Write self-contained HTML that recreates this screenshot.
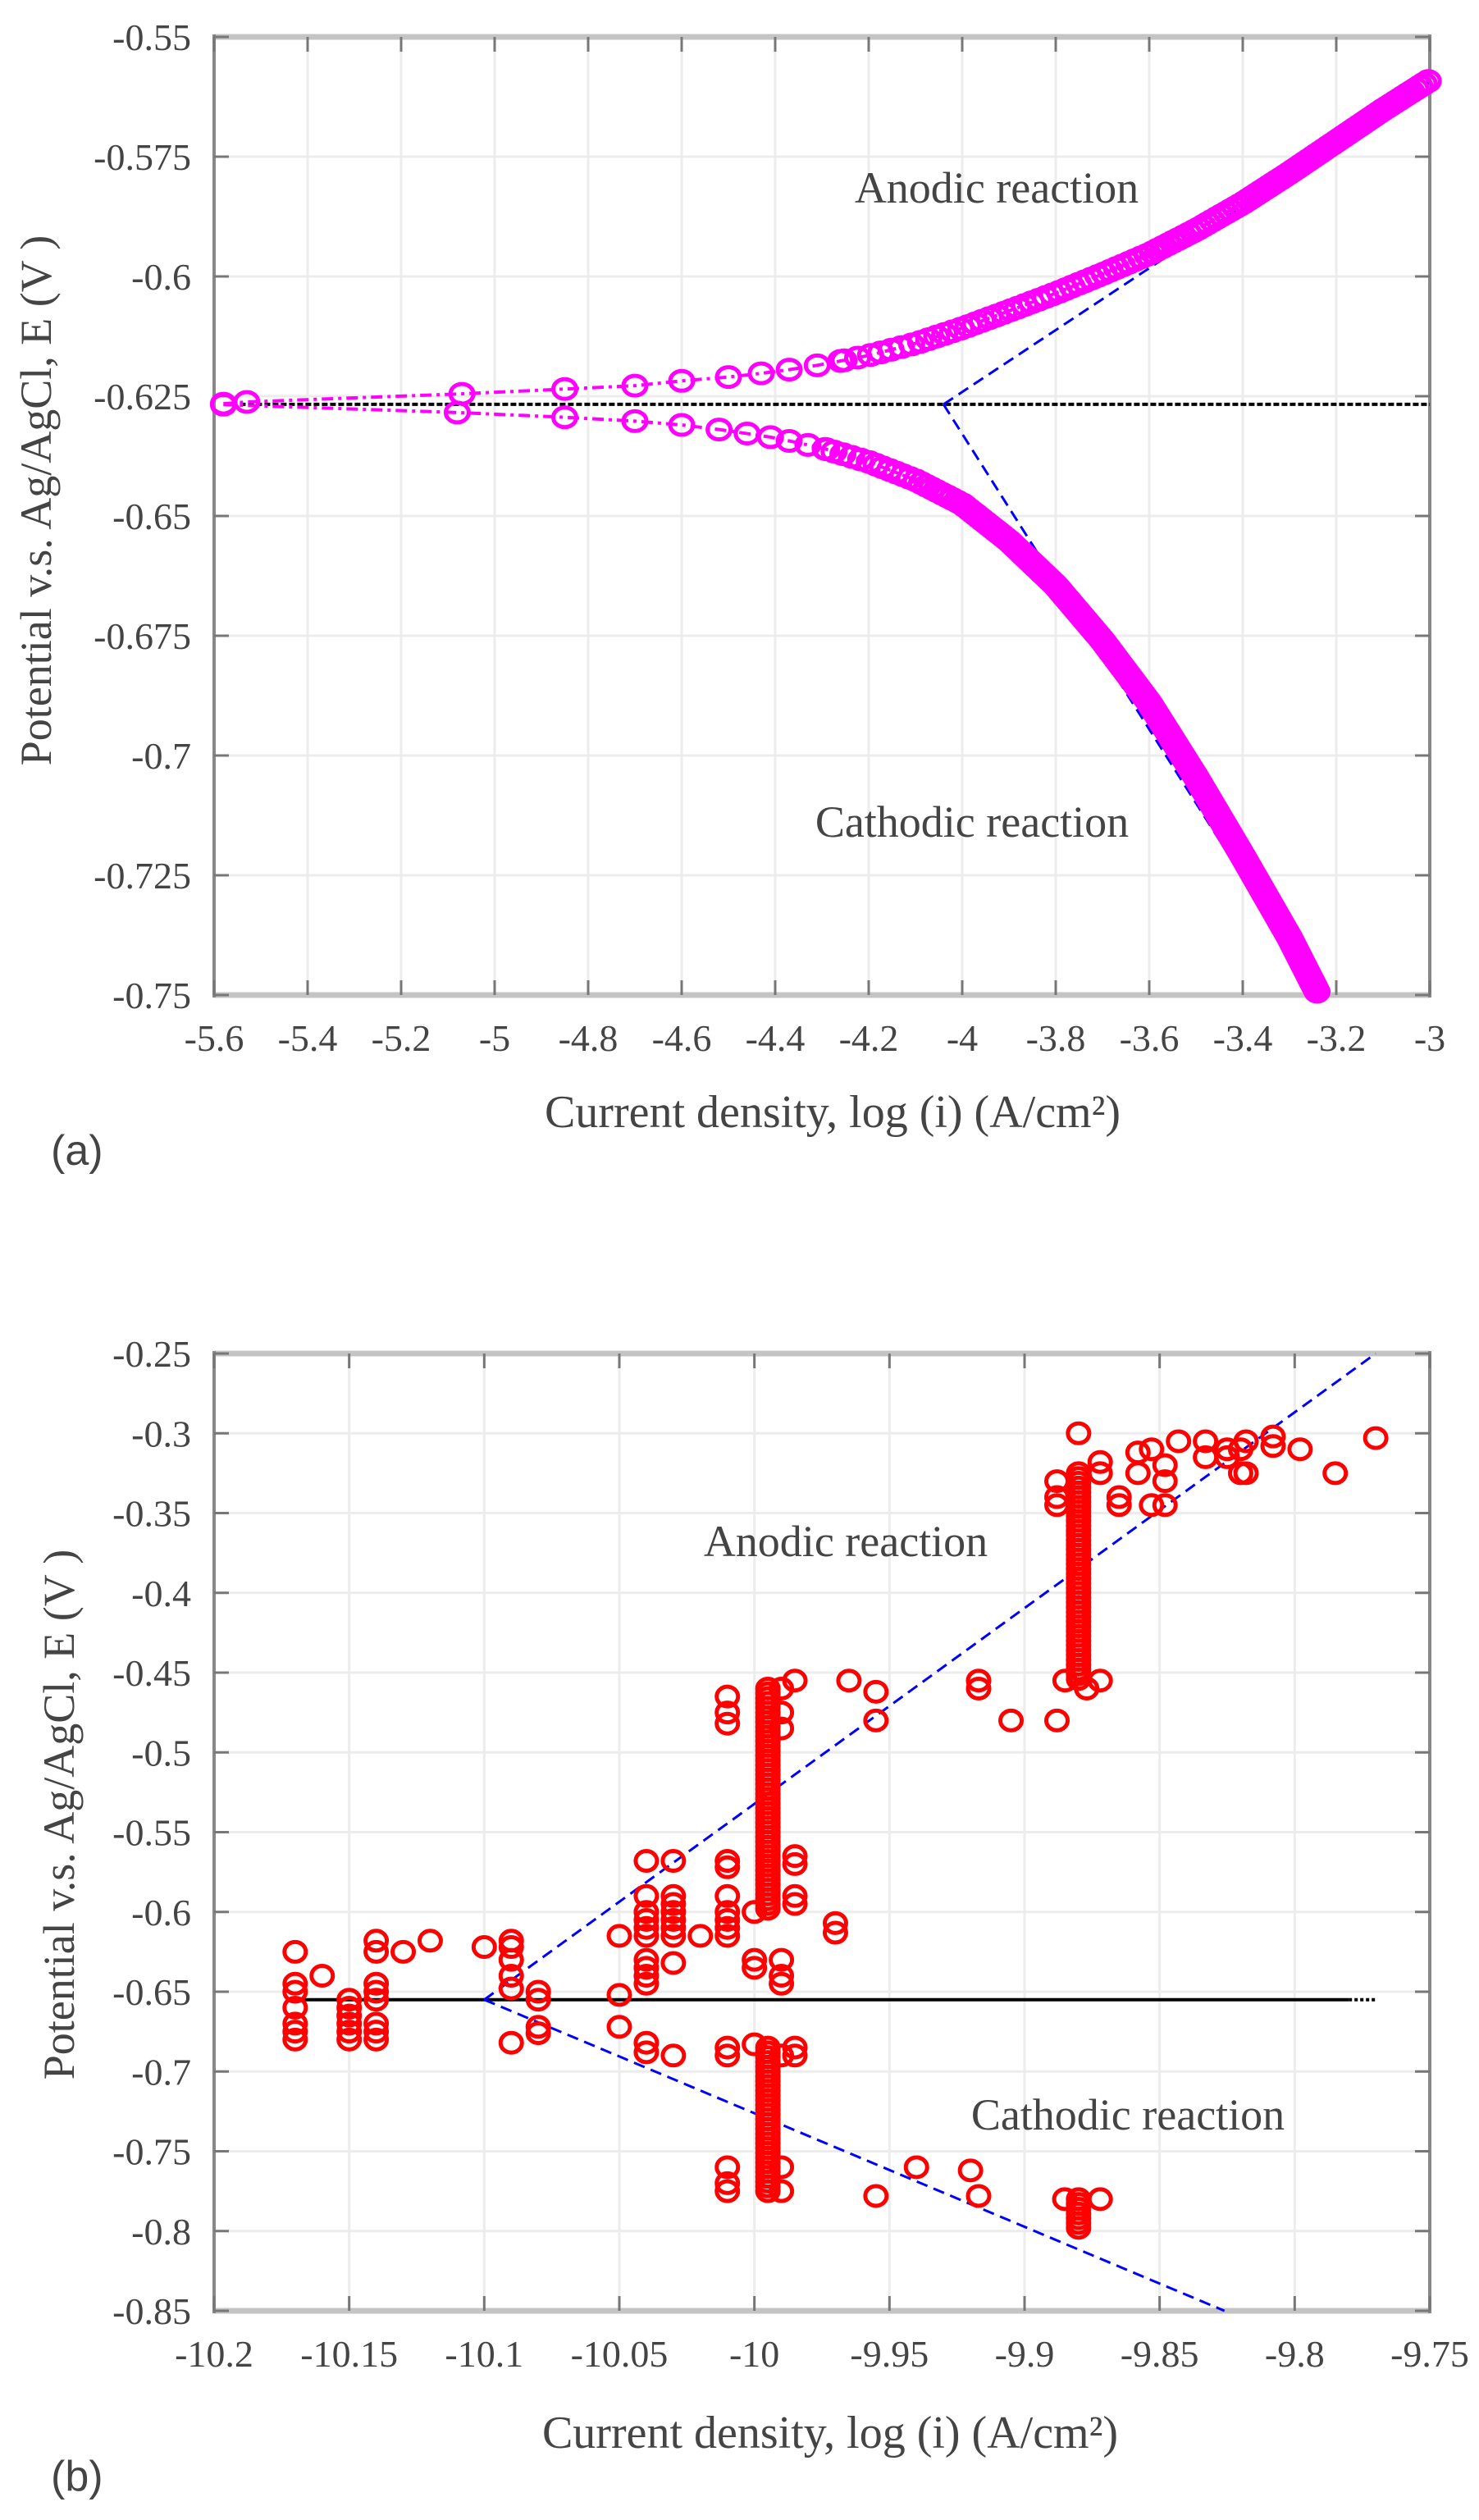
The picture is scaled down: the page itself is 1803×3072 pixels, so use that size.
<!DOCTYPE html>
<html><head><meta charset="utf-8"><style>
html,body{margin:0;padding:0;background:#fff;}
svg{display:block;}
text{font-family:"Liberation Serif",serif;fill:#444;}
</style></head><body>
<svg id="s" width="1803" height="3072" viewBox="0 0 1803 3072" xmlns="http://www.w3.org/2000/svg">
<rect width="1803" height="3072" fill="#fff"/>
<g id="ga"></g>
<g id="gb"></g>
<text x="1215" y="247" font-size="54" text-anchor="middle" fill="#333">Anodic reaction</text>
<text x="1185" y="1020" font-size="54" text-anchor="middle" fill="#333">Cathodic reaction</text>
<text x="1015" y="1374" font-size="56" text-anchor="middle">Current density, log (i) (A/cm²)</text>
<text transform="translate(62,610) rotate(-90)" font-size="54" text-anchor="middle">Potential v.s. Ag/AgCl, E (V )</text>
<text x="62" y="1420" font-size="52" style="font-family:'Liberation Sans',sans-serif">(a)</text>
<text x="1031" y="1897" font-size="54" text-anchor="middle" fill="#333">Anodic reaction</text>
<text x="1375" y="2596" font-size="54" text-anchor="middle" fill="#333">Cathodic reaction</text>
<text x="1012" y="2984" font-size="56" text-anchor="middle">Current density, log (i) (A/cm²)</text>
<text transform="translate(90,2212) rotate(-90)" font-size="54" text-anchor="middle">Potential v.s. Ag/AgCl, E (V )</text>
<text x="62" y="3036" font-size="52" style="font-family:'Liberation Sans',sans-serif">(b)</text>
</svg>
<script>
var NS="http://www.w3.org/2000/svg";
function el(g,n,a){var e=document.createElementNS(NS,n);for(var k in a)e.setAttribute(k,a[k]);g.appendChild(e);return e;}
function axes(g,L,R,T,B,xt,yt,X,Y,xl,yl){
  xt.forEach(function(v){var x=X(v);el(g,'line',{x1:x,y1:T,x2:x,y2:B,stroke:'#ececec','stroke-width':3});});
  yt.forEach(function(v){var y=Y(v);el(g,'line',{x1:L,y1:y,x2:R,y2:y,stroke:'#ececec','stroke-width':3});});
  el(g,'line',{x1:L,y1:T,x2:R,y2:T,stroke:'#c4c4c4','stroke-width':7});
  el(g,'line',{x1:L,y1:B,x2:R,y2:B,stroke:'#c4c4c4','stroke-width':7});
  el(g,'line',{x1:L,y1:T-3,x2:L,y2:B+3,stroke:'#888','stroke-width':4});
  el(g,'line',{x1:R,y1:T-3,x2:R,y2:B+3,stroke:'#888','stroke-width':4});
  xt.forEach(function(v,i){var x=X(v);el(g,'line',{x1:x,y1:B-18,x2:x,y2:B,stroke:'#777','stroke-width':3});el(g,'line',{x1:x,y1:T,x2:x,y2:T+18,stroke:'#777','stroke-width':3});
    var t=el(g,'text',{x:x,y:B+68,'font-size':46,'text-anchor':'middle'});t.textContent=xl[i];});
  yt.forEach(function(v,i){var y=Y(v);el(g,'line',{x1:L,y1:y,x2:L+18,y2:y,stroke:'#777','stroke-width':3});el(g,'line',{x1:R-18,y1:y,x2:R,y2:y,stroke:'#777','stroke-width':3});
    var t=el(g,'text',{x:L-28,y:y+16,'font-size':46,'text-anchor':'end'});t.textContent=yl[i];});
}
function interp(pts,E){
  for(var i=0;i<pts.length-1;i++){var a=pts[i],b=pts[i+1];
    if((E>=a[1]&&E<=b[1])||(E<=a[1]&&E>=b[1])){var t=(E-a[1])/(b[1]-a[1]);return a[0]+t*(b[0]-a[0]);}}
  return null;
}
function interpX(pts,x){
  for(var i=0;i<pts.length-1;i++){var a=pts[i],b=pts[i+1];
    if(x>=a[0]&&x<=b[0]){var t=(x-a[0])/(b[0]-a[0]);return a[1]+t*(b[1]-a[1]);}}
  return pts[0][1];
}
(function(){
  var g=document.getElementById('ga');
  var L=261,R=1743,T=45,B=1213;
  var X=function(v){return L+(v+5.6)*570;}, Y=function(v){return T+(-0.55-v)*5840;};
  var xt=[],xl=[];for(var i=0;i<=13;i++){var v=-5.6+0.2*i;xt.push(v);xl.push((Math.round(v*10)/10).toString());}
  var yt=[-0.55,-0.575,-0.6,-0.625,-0.65,-0.675,-0.7,-0.725,-0.75];
  var yl=['-0.55','-0.575','-0.6','-0.625','-0.65','-0.675','-0.7','-0.725','-0.75'];
  axes(g,L,R,T,B,xt,yt,X,Y,xl,yl);
  var E0=-0.6267;
  el(g,'line',{x1:X(-5.58),y1:Y(E0),x2:X(-3),y2:Y(E0),stroke:'#000','stroke-width':4,'stroke-dasharray':'7 3'});
  var an=[[-5.6,-0.6267],[-5.53,-0.6262],[-5.07,-0.6245],[-4.85,-0.6235],[-4.7,-0.6228],[-4.6,-0.6218],[-4.5,-0.621],[-4.4,-0.6199],[-4.3,-0.6184],[-4.2,-0.6165],[-4.1,-0.614],[-4.0,-0.6108],[-3.9,-0.6072],[-3.8,-0.6035],[-3.7,-0.5995],[-3.6,-0.5953],[-3.5,-0.5903],[-3.4,-0.5847],[-3.3,-0.5784],[-3.2,-0.5718],[-3.1,-0.5652],[-3.0,-0.559]];
  var ca=[[-5.6,-0.6267],[-5.08,-0.6284],[-4.85,-0.6294],[-4.7,-0.6302],[-4.6,-0.631],[-4.5,-0.6322],[-4.4,-0.6337],[-4.3,-0.6358],[-4.2,-0.6387],[-4.1,-0.6425],[-4.0,-0.6475],[-3.9,-0.6552],[-3.8,-0.6645],[-3.7,-0.676],[-3.6,-0.689],[-3.5,-0.7045],[-3.4,-0.721],[-3.3,-0.738],[-3.24,-0.7495]];
  var sa=[],sc=[];
  [-5.58,-5.53,-5.07,-4.85,-4.7,-4.6,-4.5,-4.43,-4.37,-4.31,-4.26].forEach(function(x){sa.push([X(x),Y(interpX(an,x))]);});
  for(var E=-0.6175;E<=-0.559+1e-9;E+=0.00055){sa.push([X(interp(an,E)),Y(E)]);}
  [-5.58,-5.08,-4.85,-4.7,-4.6,-4.52,-4.46,-4.41,-4.37,-4.33,-4.29].forEach(function(x){sc.push([X(x),Y(interpX(ca,x))]);});
  for(var E=-0.636;E>=-0.7495-1e-9;E-=0.00055){sc.push([X(interp(ca,E)),Y(E)]);}
  [sa,sc].forEach(function(s){
    el(g,'polyline',{points:s.map(function(p){return p[0]+','+p[1];}).join(' '),fill:'none',stroke:'#f0f','stroke-width':4,'stroke-dasharray':'14 6 4 6'});
  });
  el(g,'polyline',{points:X(-4.04)+','+Y(E0)+' '+X(-3.0)+','+Y(-0.5595),fill:'none',stroke:'#0000ff','stroke-width':3,'stroke-dasharray':'14 8'});
  el(g,'polyline',{points:X(-4.04)+','+Y(E0)+' '+X(-3.24)+','+Y(-0.75),fill:'none',stroke:'#0000ff','stroke-width':3,'stroke-dasharray':'14 8'});
  [sa,sc].forEach(function(s){s.forEach(function(p){el(g,'ellipse',{cx:p[0],cy:p[1],rx:14,ry:12,fill:'none',stroke:'#f0f','stroke-width':5});});});
})();
(function(){
  var g=document.getElementById('gb');
  var L=261,R=1743,T=1650,B=2817;
  var X=function(v){return L+(v+10.2)*3293.3;}, Y=function(v){return T+(-0.25-v)*1945;};
  var xt=[-10.2,-10.15,-10.1,-10.05,-10,-9.95,-9.9,-9.85,-9.8,-9.75];
  var xl=['-10.2','-10.15','-10.1','-10.05','-10','-9.95','-9.9','-9.85','-9.8','-9.75'];
  var yt=[],yl=[];for(var i=0;i<=12;i++){var v=-0.25-0.05*i;yt.push(v);yl.push((Math.round(v*100)/100).toString());}
  axes(g,L,R,T,B,xt,yt,X,Y,xl,yl);
  var E0=-0.655;
  el(g,'line',{x1:X(-10.17),y1:Y(E0),x2:X(-9.78),y2:Y(E0),stroke:'#000','stroke-width':4});
  el(g,'line',{x1:X(-9.78),y1:Y(E0),x2:X(-9.77),y2:Y(E0),stroke:'#000','stroke-width':4,'stroke-dasharray':'4 3'});
  el(g,'line',{x1:X(-10.1),y1:Y(E0),x2:X(-9.77),y2:Y(-0.25),stroke:'#0000ff','stroke-width':3,'stroke-dasharray':'14 8'});
  el(g,'line',{x1:X(-10.1),y1:Y(E0),x2:X(-9.826),y2:Y(-0.85),stroke:'#0000ff','stroke-width':3,'stroke-dasharray':'14 8'});
  var d={
  '-10.17':[-0.625,-0.645,-0.65,-0.66,-0.67,-0.675,-0.68],'-10.16':[-0.64],
  '-10.15':[-0.655,-0.66,-0.665,-0.67,-0.675,-0.68],
  '-10.14':[-0.618,-0.625,-0.645,-0.65,-0.655,-0.67,-0.675,-0.68],'-10.13':[-0.625],'-10.12':[-0.618],
  '-10.1':[-0.622],'-10.09':[-0.618,-0.622,-0.63,-0.64,-0.648,-0.682],'-10.08':[-0.65,-0.655,-0.672,-0.676],
  '-10.05':[-0.615,-0.652,-0.672],
  '-10.04':[-0.568,-0.59,-0.6,-0.605,-0.61,-0.615,-0.63,-0.635,-0.64,-0.645,-0.682,-0.688],
  '-10.03':[-0.568,-0.59,-0.595,-0.6,-0.605,-0.61,-0.615,-0.632,-0.69],'-10.02':[-0.615],
  '-10.01':[-0.465,-0.475,-0.482,-0.568,-0.572,-0.59,-0.6,-0.605,-0.61,-0.615,-0.685,-0.69,-0.76,-0.77,-0.775],
  '-10':[-0.6,-0.63,-0.635,-0.683],
  '-9.99':[-0.46,-0.475,-0.485,-0.63,-0.64,-0.645,-0.69,-0.76,-0.775],
  '-9.985':[-0.455,-0.565,-0.57,-0.59,-0.595,-0.685,-0.69],
  '-9.97':[-0.607,-0.613],'-9.965':[-0.455],'-9.955':[-0.462,-0.48,-0.778],'-9.94':[-0.76],'-9.92':[-0.762],
  '-9.917':[-0.455,-0.46,-0.778],'-9.905':[-0.48],'-9.888':[-0.48,-0.33,-0.34,-0.345],'-9.885':[-0.455],
  '-9.88':[-0.3],'-9.877':[-0.46],'-9.872':[-0.455,-0.318,-0.325,-0.78],'-9.8851':[-0.78],
  '-9.865':[-0.34,-0.345],'-9.858':[-0.312,-0.325],'-9.853':[-0.31,-0.345],'-9.848':[-0.32,-0.33,-0.345],
  '-9.843':[-0.305],'-9.833':[-0.305,-0.315],'-9.825':[-0.31,-0.315],'-9.82':[-0.31,-0.325],'-9.818':[-0.305,-0.325],
  '-9.808':[-0.302,-0.308],'-9.798':[-0.31],'-9.785':[-0.325],'-9.77':[-0.303]};
  function c(x,E){el(g,'ellipse',{cx:X(x),cy:Y(E),rx:13,ry:12,fill:'none',stroke:'#f00','stroke-width':5});}
  for(var k in d){var x=parseFloat(k);d[k].forEach(function(E){c(x,E);});}
  function col(x,a,b){for(var E=a;E>=b-1e-9;E-=0.003)c(x,E);}
  col(-9.995,-0.46,-0.6);col(-9.995,-0.685,-0.775);col(-9.88,-0.325,-0.455);col(-9.88,-0.78,-0.8);
})();
</script>
</body></html>
